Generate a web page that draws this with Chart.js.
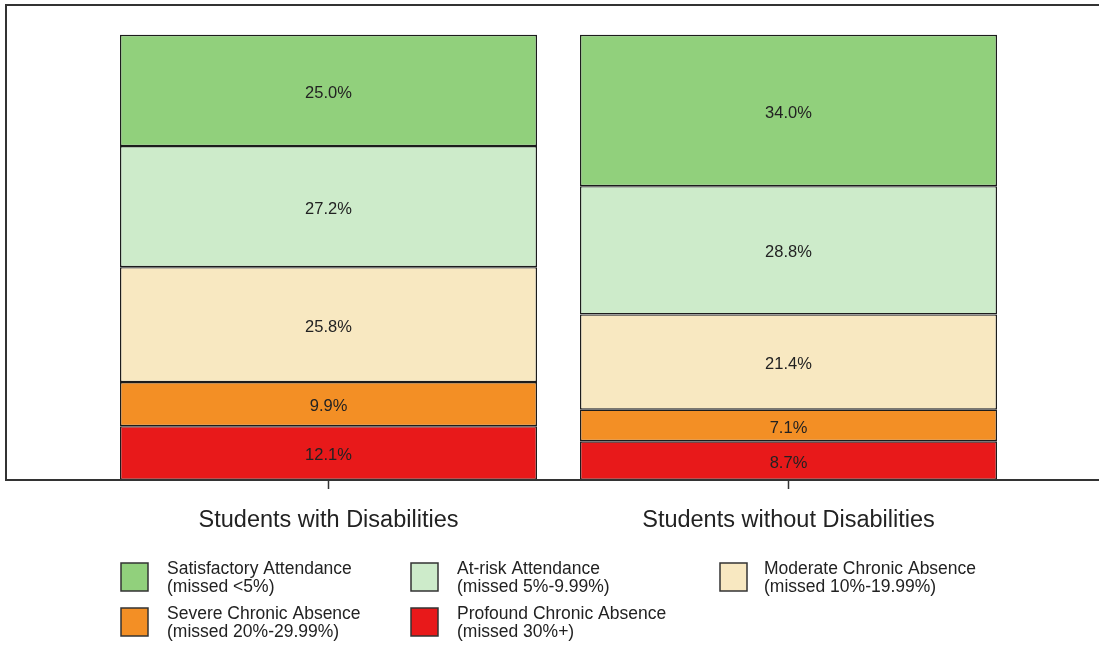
<!DOCTYPE html>
<html>
<head>
<meta charset="utf-8">
<title>Attendance by disability status</title>
<script src="https://cdn.jsdelivr.net/npm/chart.js@4"></script>
<style>
  html, body { margin: 0; padding: 0; background: #fff; overflow: hidden; }
  #wrap { position: relative; width: 1099px; height: 645px; }
</style>
</head>
<body>
<div id="wrap"><canvas id="myChart" width="1099" height="645"></canvas></div>
<script>
// groups on the x axis
const groups = ["Students with Disabilities", "Students without Disabilities"];

// attendance bands, bottom of the stack first
const bandNames = [
  ["Profound Chronic Absence", "(missed 30%+)"],
  ["Severe Chronic Absence", "(missed 20%-29.99%)"],
  ["Moderate Chronic Absence", "(missed 10%-19.99%)"],
  ["At-risk Attendance", "(missed 5%-9.99%)"],
  ["Satisfactory Attendance", "(missed <5%)"],
];
const bandColors = ["#e8191a", "#f38f25", "#f8e8c1", "#cdebca", "#91d07c"];

// percent of students in each band, one value per group
const profound = [12.1, 8.7];
const severe = [9.9, 7.1];
const moderate = [25.8, 21.4];
const atRisk = [27.2, 28.8];
const satisfactory = [25.0, 34.0];

const bandValues = [profound, severe, moderate, atRisk, satisfactory];

const datasets = bandValues.map((vals, i) => ({
  label: bandNames[i].join(" "),
  data: vals.map((v, j) => ({ x: j + 1, y: v })),
  backgroundColor: bandColors[i],
  borderColor: "#1c1c1c",
  borderWidth: 1.4,
  borderSkipped: false,
  categoryPercentage: 1,
  barPercentage: 0.9065,
}));

// percent text in the middle of each segment
const segmentLabels = {
  id: "segmentLabels",
  afterDatasetsDraw(chart) {
    const ctx = chart.ctx;
    ctx.save();
    ctx.font = "16.5px 'Liberation Sans', Arial, sans-serif";
    ctx.fillStyle = "#222";
    ctx.textAlign = "center";
    ctx.textBaseline = "middle";
    chart.data.datasets.forEach((ds, i) => {
      chart.getDatasetMeta(i).data.forEach((bar, j) => {
        const y = (bar.y + bar.base) / 2;
        ctx.fillText(ds.data[j].y.toFixed(1) + "%", bar.x, y + 2.5);
      });
    });
    ctx.restore();
  },
};

// panel frame (runs off the right edge)
const panelFrame = {
  id: "panelFrame",
  afterDatasetsDraw(chart) {
    const { left, top, bottom } = chart.chartArea;
    const ctx = chart.ctx;
    ctx.save();
    ctx.strokeStyle = "#333";
    ctx.lineWidth = 2;
    ctx.beginPath();
    ctx.moveTo(chart.width + 10, top);
    ctx.lineTo(left, top);
    ctx.lineTo(left, bottom);
    ctx.lineTo(chart.width + 10, bottom);
    ctx.stroke();
    ctx.restore();
  },
};

// legend under the axis: three columns, two rows
const bandLegend = {
  id: "bandLegend",
  afterDraw(chart) {
    const ctx = chart.ctx;
    const order = [4, 3, 2, 1, 0];
    const boxX = [121, 411, 720];
    const textX = [167, 457, 764];
    const rowY = [563, 608];
    ctx.save();
    ctx.font = "17.5px 'Liberation Sans', Arial, sans-serif";
    ctx.textAlign = "left";
    ctx.textBaseline = "alphabetic";
    order.forEach((b, k) => {
      const col = k % 3;
      const row = Math.floor(k / 3);
      const y = rowY[row];
      ctx.fillStyle = bandColors[b];
      ctx.fillRect(boxX[col], y, 27, 28);
      ctx.strokeStyle = "#333";
      ctx.lineWidth = 1.5;
      ctx.strokeRect(boxX[col], y, 27, 28);
      ctx.fillStyle = "#222";
      ctx.fillText(bandNames[b][0], textX[col], y + 11);
      ctx.fillText(bandNames[b][1], textX[col], y + 29);
    });
    ctx.restore();
  },
};

const ctx = document.getElementById("myChart").getContext("2d");
const chart = new Chart(ctx, {
  type: "bar",
  data: { datasets: datasets },
  options: {
    responsive: false,
    animation: false,
    layout: { padding: { left: 6, top: 5, right: 0, bottom: 0 } },
    plugins: { legend: { display: false }, tooltip: { enabled: false } },
    scales: {
      x: {
        type: "linear",
        min: 0.2989,
        max: 2.675,
        offset: false,
        stacked: true,
        afterBuildTicks: (scale) => {
          scale.ticks = [{ value: 1 }, { value: 2 }];
        },
        afterFit: (scale) => {
          scale.height = 165;
        },
        border: { display: false },
        grid: {
          offset: false,
          drawOnChartArea: false,
          drawTicks: true,
          tickLength: 9,
          tickColor: "#333",
          tickWidth: 1.5,
        },
        ticks: {
          autoSkip: false,
          maxRotation: 0,
          padding: 17,
          color: "#222",
          font: { family: "'Liberation Sans', Arial, sans-serif", size: 23.5 },
          callback: (value) => groups[value - 1],
        },
      },
      y: {
        stacked: true,
        min: 0,
        max: 106.7,
        display: false,
      },
    },
  },
  plugins: [segmentLabels, panelFrame, bandLegend],
});
</script>
</body>
</html>
